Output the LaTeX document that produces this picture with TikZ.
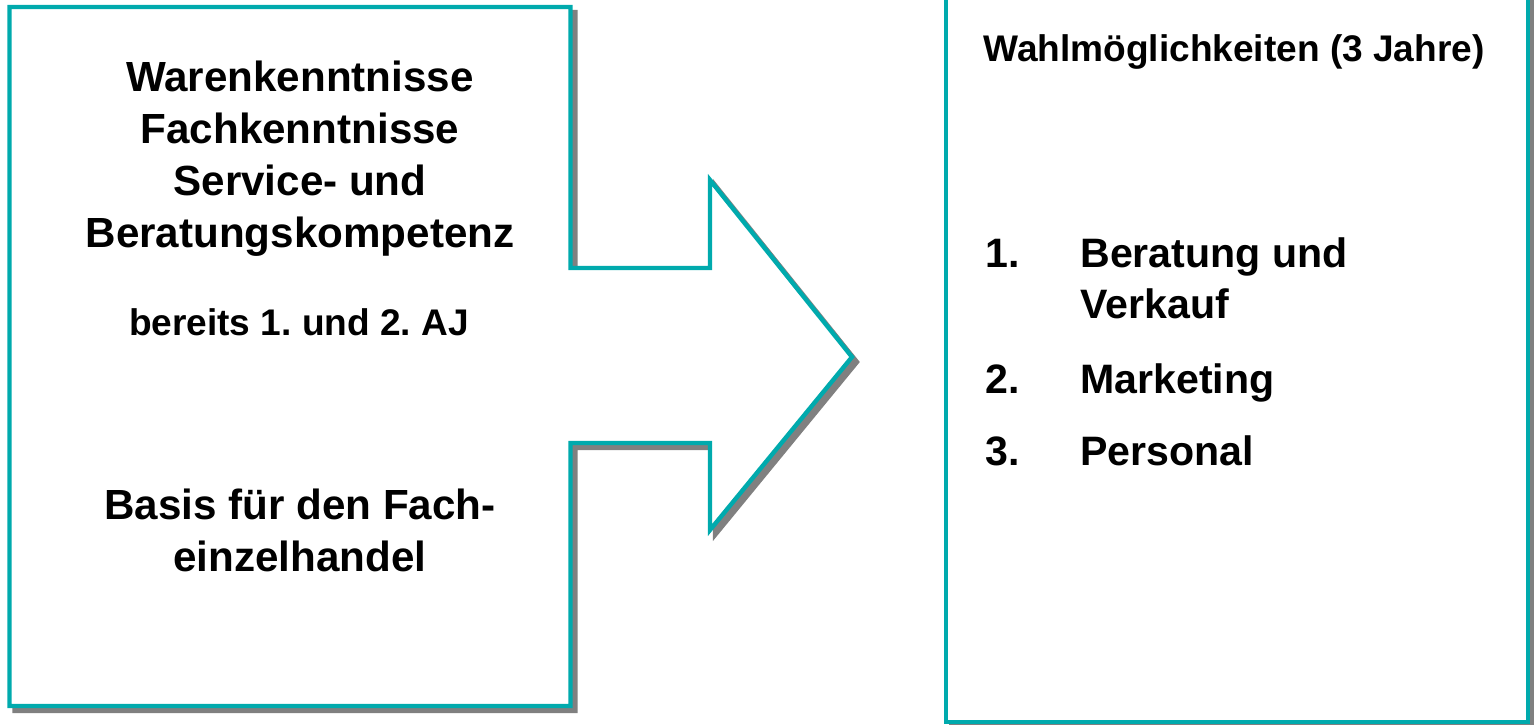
\documentclass[tikz,border=0pt]{standalone}
\usepackage{fontspec}
\setmainfont{Liberation Sans}
\usepackage{xcolor}
\definecolor{Tuerkis}{RGB}{0,170,173}
\definecolor{Schatten}{RGB}{128,128,128}
\newcommand{\gross}{\fontsize{24}{29.5}\selectfont\bfseries}
\newcommand{\mittel}{\fontsize{21.1}{25}\selectfont\bfseries}
\newcommand{\liste}{\fontsize{23.4}{29}\selectfont\bfseries}
\frenchspacing

\begin{document}
\begin{tikzpicture}[x=0.02cm, y=-0.02cm,
  rahmen/.style={draw=Tuerkis, line width=2.5pt, fill=white, line join=miter},
  schatten/.style={draw=Schatten, line width=2.5pt, fill=Schatten, shift={(5,5)}},
  txt/.style={inner sep=0pt, anchor=base}]
\useasboundingbox (0,0) rectangle (1534,724);
\clip (0,0) rectangle (1534,724);
% Kasten mit Pfeil
\draw[schatten] (9.5,7) -- (570.5,7) -- (570.5,268) -- (710,268) -- (710,180) -- (852,357)
  -- (710,530) -- (710,443) -- (570.5,443) -- (570.5,706) -- (9.5,706) -- cycle;
\draw[rahmen] (9.5,7) -- (570.5,7) -- (570.5,268) -- (710,268) -- (710,180) -- (852,357)
  -- (710,530) -- (710,443) -- (570.5,443) -- (570.5,706) -- (9.5,706) -- cycle;
%
\node[txt, align=center, font=\gross] (kenntnisse) at (300,247)
  {Warenkenntnisse\\Fachkenntnisse\\Service- und\\Beratungskompetenz};
\node[txt, font=\mittel] (bereits) at (299,335) {bereits 1. und 2. AJ};
\node[txt, align=center, font=\gross] (basis) at (300,571) {Basis für den Fach-\\einzelhandel};
%
% rechter Kasten
\draw[schatten] (946,-20) rectangle (1528,722);
\draw[rahmen] (946,-20) rectangle (1528,722);
%
\node[txt, font=\mittel] (wahl) at (1234,61) {Wahlmöglichkeiten (3 Jahre)};
\node[txt, anchor=base west, font=\liste] (nr1) at (985,267) {1.};
\node[txt, anchor=base west, font=\liste] (nr2) at (985,393) {2.};
\node[txt, anchor=base west, font=\liste] (nr3) at (985,465) {3.};
\node[txt, anchor=base west, align=left, font=\liste] (beratung) at (1080,318) {Beratung und\\Verkauf};
\node[txt, anchor=base west, font=\liste] (marketing) at (1080,393) {Marketing};
\node[txt, anchor=base west, font=\liste] (personal) at (1080,465) {Personal};
\end{tikzpicture}
\end{document}
